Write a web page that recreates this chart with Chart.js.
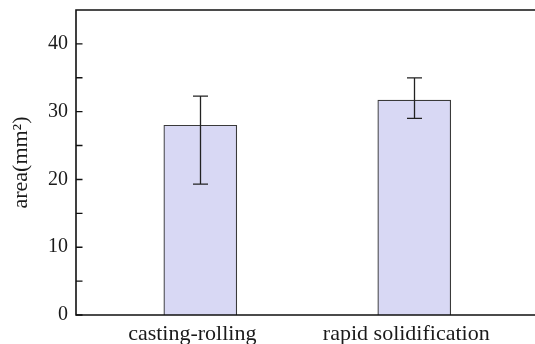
<!DOCTYPE html>
<html>
<head>
<meta charset="utf-8">
<script src="https://cdn.jsdelivr.net/npm/chart.js@4/dist/chart.umd.min.js"></script>
<style>
html,body{margin:0;padding:0;background:#fff;overflow:hidden;width:535px;height:344px;}
#wrap{width:545px;height:344px;}
</style>
</head>
<body>
<div id="wrap"><canvas id="c" width="545" height="344"></canvas></div>
<script>
// ---- data ----
const categories = ['casting-rolling', 'rapid solidification'];
const positions = [1, 2];
const areaValues = [28.0, 31.7];
const errHigh = [32.3, 35.0];
const errLow = [19.3, 29.0];
const yMajorTicks = [0, 10, 20, 30, 40];
const yMinorTicks = [5, 15, 25, 35];
const yTitle = 'area(mm\u00B2)';

const serif = "'Liberation Serif','Times New Roman',Times,serif";

const framePlugin = {
  id: 'frame',
  afterDatasetsDraw(chart) {
    const ctx = chart.ctx, a = chart.chartArea;
    const ys = chart.scales.y;
    const meta = chart.getDatasetMeta(0);
    ctx.save();
    // error bars
    ctx.strokeStyle = '#222';
    ctx.lineWidth = 1.3;
    meta.data.forEach((el, i) => {
      const x = Math.round(el.x) + 0.5;
      const yh = ys.getPixelForValue(errHigh[i]);
      const yl = ys.getPixelForValue(errLow[i]);
      ctx.beginPath();
      ctx.moveTo(x, yh); ctx.lineTo(x, yl);
      ctx.moveTo(x - 7.5, yh); ctx.lineTo(x + 7.5, yh);
      ctx.moveTo(x - 7.5, yl); ctx.lineTo(x + 7.5, yl);
      ctx.stroke();
    });
    // frame
    ctx.strokeStyle = '#111';
    ctx.lineWidth = 1.6;
    ctx.beginPath();
    ctx.rect(a.left, a.top, a.right - a.left, a.bottom - a.top);
    ctx.stroke();
    // inward ticks
    ctx.lineWidth = 1.4;
    ctx.beginPath();
    yMajorTicks.concat(yMinorTicks).forEach(v => {
      const y = ys.getPixelForValue(v);
      ctx.moveTo(a.left, y); ctx.lineTo(a.left + 6.5, y);
    });
    ctx.stroke();
    ctx.restore();
  }
};

new Chart(document.getElementById('c'), {
  type: 'bar',
  data: {
    datasets: [{
      data: positions.map((p, i) => ({x: p, y: areaValues[i]})),
      backgroundColor: 'rgb(216,216,244)',
      borderColor: '#3a3a3a',
      borderWidth: 1.2,
      barThickness: 73
    }]
  },
  options: {
    responsive: false,
    animation: false,
    devicePixelRatio: 1,
    layout: {padding: {top: 10, right: 6, left: 0, bottom: 0}},
    plugins: {legend: {display: false}, tooltip: {enabled: false}},
    scales: {
      x: {
        type: 'linear',
        min: 0.419,
        max: 2.583,
        offset: false,
        grid: {display: false, drawTicks: false},
        border: {display: false},
        afterBuildTicks(s) { s.ticks = positions.map(v => ({value: v})); },
        afterFit(s) { s.height = 29; s.paddingLeft = 0; s.paddingRight = 0; },
        ticks: {
          autoSkip: false,
          maxRotation: 0,
          padding: 6,
          labelOffset: -8,
          color: '#1a1a1a',
          font: {family: serif, size: 22},
          callback: (v) => { const i = positions.indexOf(v); return i >= 0 ? categories[i] : ''; }
        }
      },
      y: {
        min: 0,
        max: 45,
        grid: {display: false, drawTicks: false},
        border: {display: false},
        afterBuildTicks(s) { s.ticks = yMajorTicks.map(v => ({value: v})); },
        afterFit(s) { s.width = 76; s.paddingTop = 0; s.paddingBottom = 0; },
        ticks: {
          padding: 8,
          color: '#1a1a1a',
          font: {family: serif, size: 20}
        },
        title: {
          display: true,
          text: yTitle,
          color: '#1a1a1a',
          font: {family: serif, size: 22},
          padding: {top: 8, bottom: 0}
        }
      }
    }
  },
  plugins: [framePlugin]
});
</script>
</body>
</html>
